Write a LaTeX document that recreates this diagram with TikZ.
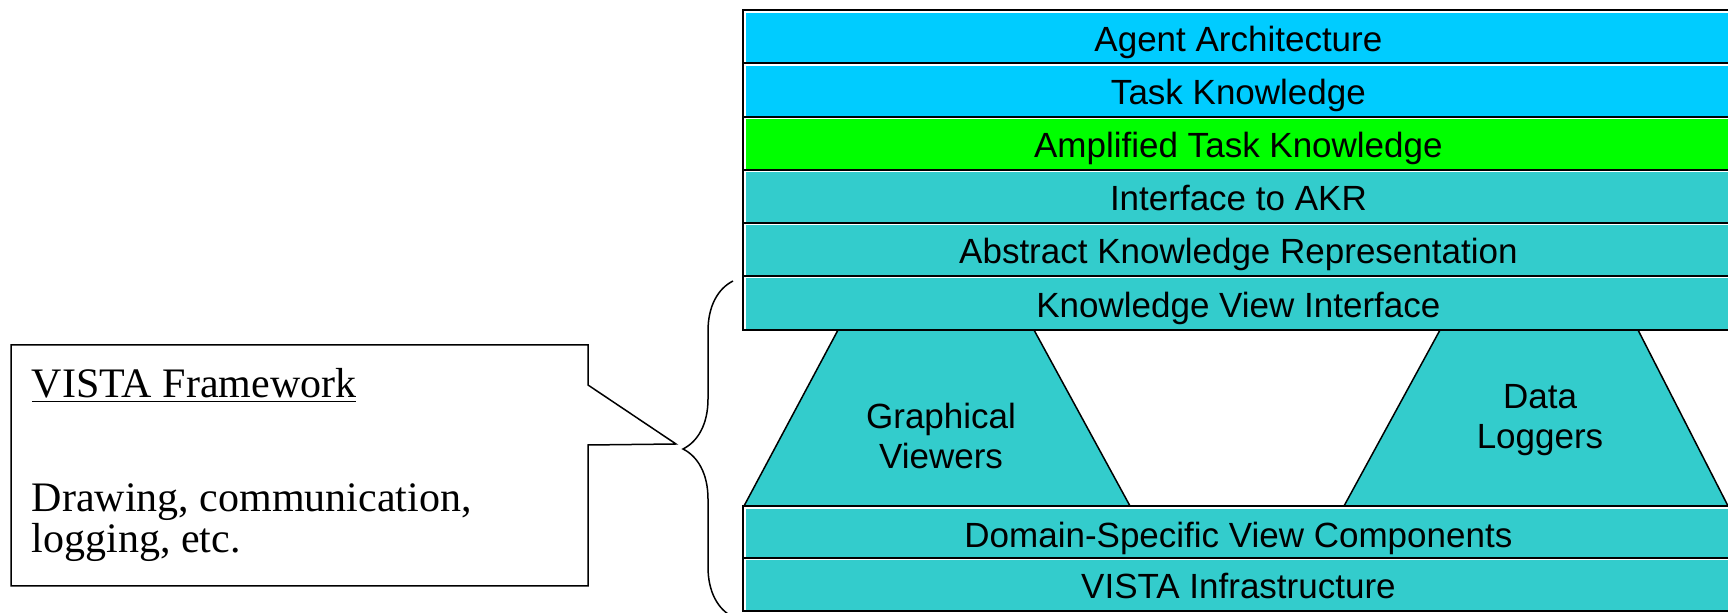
\documentclass[tikz,border=0pt]{standalone}
\usepackage{fontspec}
\setmainfont{Liberation Serif}
\setsansfont{Liberation Sans}
\usetikzlibrary{matrix,positioning,decorations.pathreplacing}

\definecolor{agentblue}{HTML}{00CCFF}
\definecolor{amplgreen}{HTML}{00FF00}
\definecolor{vistateal}{HTML}{33CCCC}

\begin{document}
\begin{tikzpicture}[font=\sffamily\fontsize{17.5}{19.7}\selectfont,
  stack/.style={matrix of nodes, inner sep=0pt, row sep=-1.8pt,
    nodes={draw, line width=1pt, fill=vistateal, minimum width=495pt, minimum height=27.33pt, inner sep=0pt, text height=14pt, text depth=0pt,
      path picture={\draw[white, line width=2.4pt] (path picture bounding box.south west) -- (path picture bounding box.north west) -- (path picture bounding box.north east);}},
    row 1/.style={nodes={fill=agentblue}},
    row 2/.style={nodes={fill=agentblue}},
  },
  wedge/.style={draw, line width=0.75pt, fill=vistateal},
  callout/.style={draw, line width=0.75pt, fill=white},
  note/.style={font=\rmfamily\fontsize{21}{25}\selectfont, inner sep=0pt, anchor=base west},
]
\useasboundingbox (0,0) rectangle (864pt,-306.5pt);

% viewers and loggers between the two stacks
\draw[wedge] (419pt,-165pt) -- (517pt,-165pt) -- (565pt,-253pt) -- (372pt,-253pt) -- cycle;
\draw[wedge] (720pt,-165pt) -- (819pt,-165pt) -- (864pt,-253pt) -- (672pt,-253pt) -- cycle;
\node[align=center] (viewers) at (470.5pt,-218pt) {Graphical\\Viewers};
\node[align=center] (loggers) at (770pt,-210pt) {Data\\Loggers};

\matrix[stack, row 3/.style={nodes={fill=amplgreen}}, anchor=north west] (layers) at (371pt,-4.5pt) {
  Agent Architecture \\
  Task Knowledge \\
  Amplified Task Knowledge \\
  Interface to AKR \\
  Abstract Knowledge Representation \\
  Knowledge View Interface \\ };

\matrix[stack, nodes={minimum height=26.65pt}, row 1/.style={}, row 2/.style={}, anchor=north west] (base) at (371pt,-252.5pt) {
  Domain-Specific View Components \\
  VISTA Infrastructure \\ };

% framework callout and brace
\draw[callout] (5.5pt,-172.5pt) -- (294pt,-172.5pt) -- (294pt,-192.5pt) -- (338pt,-222pt)
  -- (294pt,-222.5pt) -- (294pt,-293pt) -- (5.5pt,-293pt) -- cycle;
\node[note] (fwtitle) at (15.8pt,-198.9pt) {\underline{VISTA Framework}};
\node[note] (fwline1) at (15.8pt,-256pt) {Drawing, communication,};
\node[note] (fwline2) at (15.8pt,-276.5pt) {logging, etc.};

\coordinate (brace top) at (366.5pt,-140.5pt);
\coordinate (brace bottom) at (366.5pt,-308.5pt);
\draw[line width=0.75pt, decorate, decoration={brace, amplitude=25pt}] (brace bottom) -- (brace top);

\end{tikzpicture}
\end{document}
